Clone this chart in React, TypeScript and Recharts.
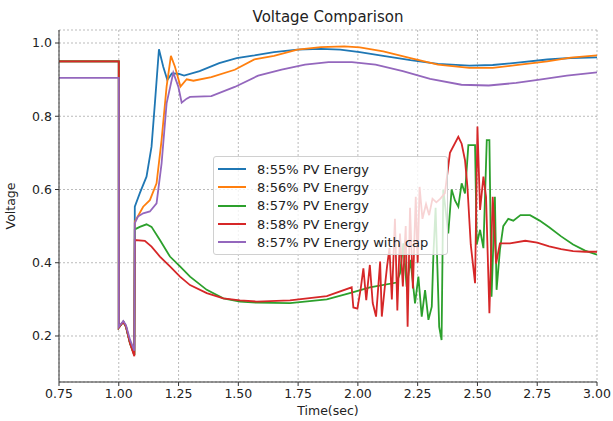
import { LineChart, Line, XAxis, YAxis, CartesianGrid, Legend } from 'recharts';

const xTicks = [0.75, 1.0, 1.25, 1.5, 1.75, 2.0, 2.25, 2.5, 2.75, 3.0];
const yTicks = [0.2, 0.4, 0.6, 0.8, 1.0];

const names = [
  '8:55% PV Energy',
  '8:56% PV Energy',
  '8:57% PV Energy',
  '8:58% PV Energy',
  '8:57% PV Energy with cap',
];
const colors = ['#1f77b4', '#ff7f0e', '#2ca02c', '#d62728', '#9467bd'];

// 8:55
const tBlue = [0.75, 1.0, 1.0, 1.019, 1.03, 1.047, 1.065, 1.067, 1.088, 1.116, 1.137, 1.151, 1.168, 1.186, 1.203, 1.222, 1.249, 1.273, 1.338, 1.42, 1.493, 1.567, 1.649, 1.747, 1.845, 1.926, 2.008, 2.106, 2.22, 2.335, 2.466, 2.564, 2.678, 2.792, 2.89, 3.0];
const vBlue = [0.95, 0.95, 0.223, 0.239, 0.226, 0.18, 0.148, 0.553, 0.59, 0.635, 0.717, 0.835, 0.983, 0.935, 0.899, 0.917, 0.916, 0.911, 0.923, 0.945, 0.959, 0.966, 0.975, 0.982, 0.984, 0.982, 0.975, 0.965, 0.953, 0.943, 0.938, 0.94, 0.947, 0.955, 0.959, 0.961];

// 8:56
const tOrange = [0.75, 1.0, 1.0, 1.019, 1.03, 1.047, 1.065, 1.067, 1.102, 1.13, 1.158, 1.179, 1.2, 1.218, 1.235, 1.258, 1.284, 1.312, 1.387, 1.485, 1.567, 1.649, 1.747, 1.845, 1.943, 2.008, 2.106, 2.22, 2.335, 2.466, 2.564, 2.678, 2.792, 2.89, 3.0];
const vOrange = [0.95, 0.95, 0.223, 0.239, 0.226, 0.18, 0.148, 0.512, 0.553, 0.571, 0.617, 0.735, 0.881, 0.965, 0.935, 0.881, 0.901, 0.897, 0.907, 0.927, 0.955, 0.965, 0.982, 0.989, 0.991, 0.988, 0.977, 0.959, 0.941, 0.932, 0.932, 0.941, 0.95, 0.96, 0.966];

// 8:57
const tGreen = [0.75, 1.0, 1.0, 1.019, 1.03, 1.047, 1.065, 1.067, 1.088, 1.116, 1.137, 1.172, 1.214, 1.256, 1.298, 1.368, 1.437, 1.507, 1.577, 1.716, 1.87, 1.97, 2.05, 2.162, 2.176, 2.19, 2.204, 2.22, 2.239, 2.253, 2.267, 2.281, 2.295, 2.309, 2.316, 2.325, 2.34, 2.35, 2.357, 2.378, 2.392, 2.406, 2.42, 2.434, 2.448, 2.462, 2.49, 2.497, 2.511, 2.525, 2.539, 2.55, 2.559, 2.573, 2.58, 2.594, 2.608, 2.629, 2.65, 2.68, 2.72, 2.76, 2.8, 2.85, 2.9, 2.95, 3.0];
const vGreen = [0.95, 0.95, 0.223, 0.239, 0.226, 0.18, 0.148, 0.491, 0.498, 0.505, 0.498, 0.462, 0.417, 0.39, 0.362, 0.326, 0.303, 0.294, 0.291, 0.29, 0.3, 0.318, 0.333, 0.346, 0.371, 0.453, 0.335, 0.408, 0.289, 0.362, 0.253, 0.325, 0.244, 0.28, 0.426, 0.55, 0.225, 0.189, 0.6, 0.48, 0.6, 0.57, 0.553, 0.617, 0.589, 0.721, 0.721, 0.45, 0.49, 0.44, 0.735, 0.735, 0.307, 0.58, 0.326, 0.435, 0.5, 0.52, 0.515, 0.53, 0.53, 0.515, 0.497, 0.472, 0.45, 0.433, 0.422];

// 8:58
const tRed = [0.75, 1.0, 1.0, 1.019, 1.03, 1.047, 1.065, 1.067, 1.109, 1.137, 1.172, 1.214, 1.256, 1.298, 1.368, 1.437, 1.507, 1.577, 1.716, 1.87, 1.974, 1.981, 1.998, 2.012, 2.023, 2.035, 2.05, 2.062, 2.076, 2.093, 2.1, 2.112, 2.122, 2.132, 2.142, 2.155, 2.165, 2.176, 2.188, 2.2, 2.208, 2.218, 2.23, 2.242, 2.25, 2.258, 2.27, 2.285, 2.298, 2.312, 2.328, 2.345, 2.364, 2.385, 2.42, 2.434, 2.448, 2.458, 2.472, 2.49, 2.5, 2.511, 2.525, 2.536, 2.55, 2.564, 2.578, 2.594, 2.636, 2.7, 2.75, 2.8, 2.85, 2.9, 2.95, 3.0];
const vRed = [0.95, 0.95, 0.223, 0.239, 0.226, 0.18, 0.145, 0.462, 0.46, 0.444, 0.417, 0.39, 0.362, 0.339, 0.317, 0.303, 0.297, 0.294, 0.297, 0.309, 0.333, 0.278, 0.275, 0.33, 0.385, 0.298, 0.394, 0.29, 0.253, 0.403, 0.253, 0.33, 0.39, 0.44, 0.3, 0.52, 0.27, 0.48, 0.335, 0.5, 0.225, 0.55, 0.33, 0.58, 0.4, 0.607, 0.52, 0.56, 0.53, 0.575, 0.565, 0.575, 0.59, 0.7, 0.744, 0.725, 0.68, 0.608, 0.45, 0.344, 0.772, 0.544, 0.635, 0.58, 0.262, 0.58, 0.398, 0.453, 0.453, 0.46, 0.455, 0.445, 0.437, 0.432, 0.43, 0.43];

// 8:57 with cap
const tPurple = [0.75, 1.0, 1.0, 1.019, 1.03, 1.047, 1.065, 1.067, 1.08, 1.102, 1.13, 1.158, 1.179, 1.2, 1.228, 1.249, 1.263, 1.284, 1.298, 1.387, 1.485, 1.583, 1.681, 1.779, 1.877, 1.975, 2.074, 2.188, 2.302, 2.433, 2.547, 2.662, 2.76, 2.874, 3.0];
const vPurple = [0.905, 0.905, 0.225, 0.241, 0.23, 0.19, 0.16, 0.508, 0.526, 0.535, 0.54, 0.562, 0.671, 0.835, 0.919, 0.881, 0.837, 0.848, 0.853, 0.855, 0.88, 0.911, 0.927, 0.941, 0.948, 0.948, 0.941, 0.923, 0.902, 0.886, 0.884, 0.891, 0.9, 0.911, 0.92];

const toPoints = (t: number[], v: number[]) => t.map((x, i) => ({ t: x, v: v[i] }));

const series = [
  toPoints(tBlue, vBlue),
  toPoints(tOrange, vOrange),
  toPoints(tGreen, vGreen),
  toPoints(tRed, vRed),
  toPoints(tPurple, vPurple),
];

const FONT = '"DejaVu Sans", sans-serif';
const tickStyle = { fill: '#222', fontSize: 12.5, fontFamily: FONT };

function LegendBox({ payload }: any) {
  // keep the plotting order, not the alphabetical one
  const items = [...(payload || [])].sort((a: any, b: any) => names.indexOf(a.value) - names.indexOf(b.value));
  return (
    <div style={{
      boxSizing: 'border-box', width: 235, background: 'rgba(255,255,255,0.8)',
      border: '1px solid #d0d0d0', borderRadius: 3, padding: '3px 0 3px 4px',
      fontFamily: FONT, fontSize: 13, color: '#222',
    }}>
      {items.map((p: any) => (
        <div key={p.value} style={{ display: 'flex', alignItems: 'center', height: 18.3, whiteSpace: 'nowrap' }}>
          <span style={{ display: 'inline-block', width: 28, borderTop: `2px solid ${p.color}`, marginRight: 11 }} />
          {p.value}
        </div>
      ))}
    </div>
  );
}

export default function App() {
  return (
    <div style={{ position: 'absolute', left: 0, top: 0, background: '#fff' }}>
      <LineChart width={613} height={421} margin={{ top: 30, right: 16, left: 0, bottom: 0 }}>
        <CartesianGrid stroke="#aaa" strokeDasharray="2 2" strokeWidth={0.8} />
        <XAxis
          dataKey="t" type="number" domain={[0.75, 3.0]} ticks={xTicks} allowDataOverflow
          tickFormatter={(x: number) => x.toFixed(2)} height={39}
          tick={tickStyle} stroke="#333" tickSize={4} tickMargin={3}
        />
        <XAxis
          xAxisId="top" orientation="top" type="number" domain={[0.75, 3.0]} allowDataOverflow
          height={0} tick={false} tickLine={false} stroke="#333"
        />
        <YAxis
          type="number" domain={[0.0744, 1.0355]} ticks={yTicks} allowDataOverflow
          tickFormatter={(y: number) => y.toFixed(1)} width={59}
          tick={tickStyle} stroke="#333" tickSize={4} tickMargin={3}
        />
        <YAxis
          yAxisId="right" orientation="right" type="number" domain={[0.0744, 1.0355]} allowDataOverflow
          width={0} tick={false} tickLine={false} stroke="#333"
        />
        <Legend layout="vertical" align="center" verticalAlign="middle" content={<LegendBox />}
          wrapperStyle={{ left: 213, top: 156, width: 235 }} />
        {series.map((d, i) => (
          <Line
            key={names[i]} data={d} dataKey="v" name={names[i]} type="linear"
            stroke={colors[i]} strokeWidth={1.8} dot={false} activeDot={false}
            isAnimationActive={false}
          />
        ))}
        <text x={328} y={22} textAnchor="middle" fontFamily={FONT} fontSize={15} fill="#222">Voltage Comparison</text>
        <text x={328} y={415} textAnchor="middle" fontFamily={FONT} fontSize={12.5} fill="#222">Time(sec)</text>
        <text x={15} y={206} textAnchor="middle" fontFamily={FONT} fontSize={12.5} fill="#222"
          transform="rotate(-90 15 206)">Voltage</text>
      </LineChart>
    </div>
  );
}
